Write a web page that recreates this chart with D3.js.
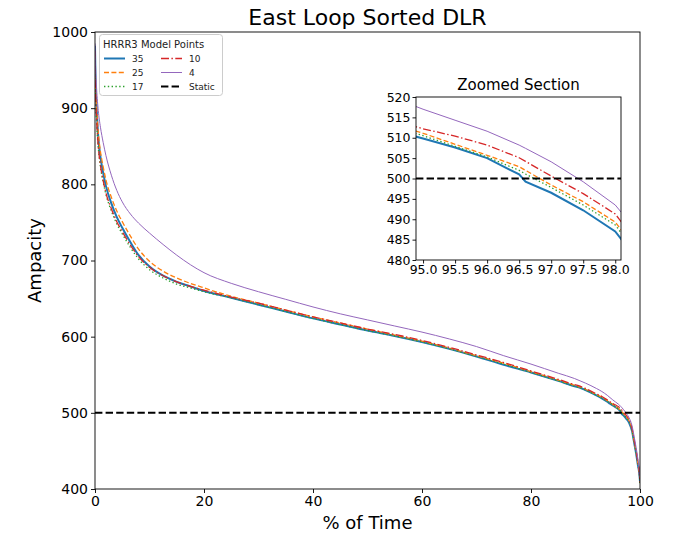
<!DOCTYPE html>
<html>
<head>
<meta charset="utf-8">
<script src="https://cdn.jsdelivr.net/npm/d3@7"></script>
<style>
html,body{margin:0;padding:0;background:#fff;}
svg{display:block;font-family:"DejaVu Sans",sans-serif;}
</style>
</head>
<body>
<svg id="chart" width="679" height="536"></svg>
<script>
// ---------------- data ----------------
const pctTime = [0, 0.1, 0.3, 0.6, 1, 1.5, 2, 3, 4, 5, 6.5, 8, 10, 12.5, 15, 17.5, 20, 25, 30, 35, 40, 45, 50, 55, 60, 65, 70, 75, 80, 85, 88, 89, 90, 92, 93, 94, 94.5, 95, 95.5, 96, 96.5, 96.6, 97, 97.5, 98, 98.5, 99, 99.3, 99.6, 99.8, 99.9, 100];

const dlr35 = [982, 935, 900, 862, 836, 815, 798, 775, 757, 743, 724, 707, 692, 680, 672, 666, 660, 651, 642, 633, 624, 616, 608, 601, 593, 584, 574, 563, 553, 542, 535, 533, 530, 523, 519, 514.5, 512, 509.8, 507.6, 505, 501, 499.2, 496.5, 492.2, 487, 477, 458, 446, 432, 424, 418, 410];
const dlr25 = [970, 930, 900, 868, 843, 823, 806, 783, 765, 751, 732, 715, 699, 686, 677, 670, 664, 653, 644, 635, 626, 618, 610, 602, 594, 585, 575, 565, 554, 543, 536, 534, 531, 524, 520.5, 516, 513.5, 511.1, 508.4, 505.7, 502.9, 502.0, 498.4, 494.3, 489.3, 479, 460, 448, 434, 425, 419, 408];
const dlr17 = [965, 920, 880, 848, 823, 803, 787, 765, 748, 735, 717, 702, 688, 677, 669, 664, 659, 651, 642, 633, 624, 616, 608, 601, 593, 584, 574, 564, 553, 542, 535, 533, 530, 523, 519.5, 515, 513, 510.5, 507.9, 505.3, 502, 501.1, 497.8, 493.5, 488.6, 478, 459, 447, 433, 424, 418, 407];
const dlr10 = [975, 925, 885, 850, 825, 805, 789, 768, 751, 738, 720, 705, 691, 680, 672, 666, 661, 652, 644, 635, 626, 618, 610, 603, 595, 586, 576, 566, 555, 544, 537, 535, 532, 525, 521.5, 517, 514.5, 512.2, 510.4, 508.2, 505.1, 504.2, 500.6, 496.3, 491.3, 481, 462, 450, 436, 427, 420, 409];
const dlr4 = [985, 955, 925, 897, 875, 855, 838, 812, 792, 777, 761, 749, 736, 721, 707, 694.5, 684, 670, 659, 649, 639, 630, 622, 614, 606, 597, 587, 575, 564, 552, 545, 542, 539, 532, 528, 523, 520, 517, 514.3, 511.6, 508.2, 507.4, 504.1, 499.2, 493.5, 484, 466, 454, 440, 430, 423, 415];
const staticRating = 500;

const seriesNames = ["35", "25", "17", "10", "4"];
const seriesValues = [dlr35, dlr25, dlr17, dlr10, dlr4];

const mainXTicks = [0, 20, 40, 60, 80, 100];
const mainYTicks = [400, 500, 600, 700, 800, 900, 1000];
const insetXTicks = [95.0, 95.5, 96.0, 96.5, 97.0, 97.5, 98.0];
const insetYTicks = [480, 485, 490, 495, 500, 505, 510, 515, 520];

const titleText = "East Loop Sorted DLR";
const xLabelText = "% of Time";
const yLabelText = "Ampacity";
const insetTitleText = "Zoomed Section";
const legendTitleText = "HRRR3 Model Points";

// ---------------- styles ----------------
const styles = {
  "35": {color: "#1f77b4", width: 2, dash: null},
  "25": {color: "#ff7f0e", width: 1.3, dash: "5,2.4"},
  "17": {color: "#2ca02c", width: 1.3, dash: "1.4,2.4"},
  "10": {color: "#d62728", width: 1.3, dash: "8,2.4,1.5,2.4"},
  "4":  {color: "#9467bd", width: 1, dash: null},
  "Static": {color: "#000", width: 2, dash: "7.4,3.2"}
};

const series = seriesNames.map((n, i) => ({
  name: n,
  points: pctTime.map((t, j) => ({t, v: seriesValues[i][j]}))
}));

const svg = d3.select("#chart");

// ---------------- main plot ----------------
const M = {left: 95, right: 640, top: 32, bottom: 489};
const x = d3.scaleLinear().domain([0, 100]).range([M.left, M.right]);
const y = d3.scaleLinear().domain([400, 1000]).range([M.bottom, M.top]);

const defs = svg.append("defs");
defs.append("clipPath").attr("id", "clipMain").append("rect")
  .attr("x", M.left).attr("y", M.top).attr("width", M.right - M.left).attr("height", M.bottom - M.top);

const gMain = svg.append("g").attr("clip-path", "url(#clipMain)");
const lineMain = d3.line().curve(d3.curveMonotoneX).x(d => x(d.t)).y(d => y(d.v));
series.forEach(s => {
  const st = styles[s.name];
  gMain.append("path").datum(s.points)
    .attr("d", lineMain)
    .attr("fill", "none")
    .attr("stroke", st.color)
    .attr("stroke-width", st.width)
    .attr("stroke-dasharray", st.dash);
});
gMain.append("line")
  .attr("x1", x(0)).attr("x2", x(100))
  .attr("y1", y(staticRating)).attr("y2", y(staticRating))
  .attr("stroke", styles.Static.color).attr("stroke-width", styles.Static.width)
  .attr("stroke-dasharray", styles.Static.dash);

// frame
svg.append("rect").attr("x", M.left).attr("y", M.top)
  .attr("width", M.right - M.left).attr("height", M.bottom - M.top)
  .attr("fill", "none").attr("stroke", "#000").attr("stroke-width", 0.9);

const xAxis = svg.append("g").attr("transform", `translate(0,${M.bottom})`)
  .call(d3.axisBottom(x).tickValues(mainXTicks).tickSize(4).tickPadding(3).tickFormat(d3.format("d")));
const yAxis = svg.append("g").attr("transform", `translate(${M.left},0)`)
  .call(d3.axisLeft(y).tickValues(mainYTicks).tickSize(4).tickPadding(3).tickFormat(d3.format("d")));
[xAxis, yAxis].forEach(a => {
  a.select(".domain").remove();
  a.selectAll("text").attr("font-size", 14).attr("font-family", "DejaVu Sans").attr("fill", "#000");
  a.selectAll("line").attr("stroke", "#000").attr("stroke-width", 0.9);
});

svg.append("text").attr("x", (M.left + M.right) / 2).attr("y", 25)
  .attr("text-anchor", "middle").attr("font-size", 22).attr("fill", "#000").text(titleText);
svg.append("text").attr("x", (M.left + M.right) / 2).attr("y", 529)
  .attr("text-anchor", "middle").attr("font-size", 18).attr("fill", "#000").text(xLabelText);
svg.append("text").attr("transform", `translate(41,${(M.top + M.bottom) / 2}) rotate(-90)`)
  .attr("text-anchor", "middle").attr("font-size", 18).attr("fill", "#000").text(yLabelText);

// ---------------- legend ----------------
const lg = svg.append("g");
lg.append("rect").attr("x", 99.5).attr("y", 34.5).attr("width", 123).attr("height", 61)
  .attr("rx", 3).attr("fill", "#fff").attr("fill-opacity", 0.85).attr("stroke", "#ccc").attr("stroke-width", 1);
lg.append("text").attr("x", 103).attr("y", 47.5).attr("font-size", 10).attr("fill", "#222").text(legendTitleText);
const legendItems = ["35", "25", "17", "10", "4", "Static"];
legendItems.forEach((name, i) => {
  const col = Math.floor(i / 3), row = i % 3;
  const lx = col === 0 ? 104 : 161;
  const ly = 58.5 + row * 14;
  const st = styles[name];
  lg.append("line").attr("x1", lx).attr("x2", lx + 21).attr("y1", ly).attr("y2", ly)
    .attr("stroke", st.color).attr("stroke-width", st.width).attr("stroke-dasharray", st.dash);
  lg.append("text").attr("x", lx + 28).attr("y", ly + 3.3).attr("font-size", 9).attr("fill", "#222").text(name);
});

// ---------------- inset ----------------
const I = {left: 416, right: 621, top: 97, bottom: 260};
const xi = d3.scaleLinear().domain([94.89, 98.09]).range([I.left, I.right]);
const yi = d3.scaleLinear().domain([480, 520]).range([I.bottom, I.top]);

svg.append("rect").attr("x", I.left).attr("y", I.top).attr("width", I.right - I.left).attr("height", I.bottom - I.top)
  .attr("fill", "#fff");
defs.append("clipPath").attr("id", "clipInset").append("rect")
  .attr("x", I.left).attr("y", I.top).attr("width", I.right - I.left).attr("height", I.bottom - I.top);
const gIn = svg.append("g").attr("clip-path", "url(#clipInset)");
const lineIn = d3.line().x(d => xi(d.t)).y(d => yi(d.v));
series.forEach(s => {
  const st = styles[s.name];
  gIn.append("path").datum(s.points)
    .attr("d", lineIn)
    .attr("fill", "none")
    .attr("stroke", st.color)
    .attr("stroke-width", st.width)
    .attr("stroke-dasharray", st.dash);
});
gIn.append("line")
  .attr("x1", I.left).attr("x2", I.right)
  .attr("y1", yi(staticRating)).attr("y2", yi(staticRating))
  .attr("stroke", styles.Static.color).attr("stroke-width", styles.Static.width)
  .attr("stroke-dasharray", styles.Static.dash);

svg.append("rect").attr("x", I.left).attr("y", I.top).attr("width", I.right - I.left).attr("height", I.bottom - I.top)
  .attr("fill", "none").attr("stroke", "#000").attr("stroke-width", 0.9);

const xiAxis = svg.append("g").attr("transform", `translate(0,${I.bottom})`)
  .call(d3.axisBottom(xi).tickValues(insetXTicks).tickSize(3.5).tickPadding(2).tickFormat(d3.format(".1f")));
const yiAxis = svg.append("g").attr("transform", `translate(${I.left},0)`)
  .call(d3.axisLeft(yi).tickValues(insetYTicks).tickSize(3.5).tickPadding(2).tickFormat(d3.format("d")));
[xiAxis, yiAxis].forEach(a => {
  a.select(".domain").remove();
  a.selectAll("text").attr("font-size", 12.5).attr("font-family", "DejaVu Sans").attr("fill", "#000");
  a.selectAll("line").attr("stroke", "#000").attr("stroke-width", 0.9);
});
svg.append("text").attr("x", (I.left + I.right) / 2).attr("y", 90)
  .attr("text-anchor", "middle").attr("font-size", 15).attr("fill", "#000").text(insetTitleText);
</script>
</body>
</html>
